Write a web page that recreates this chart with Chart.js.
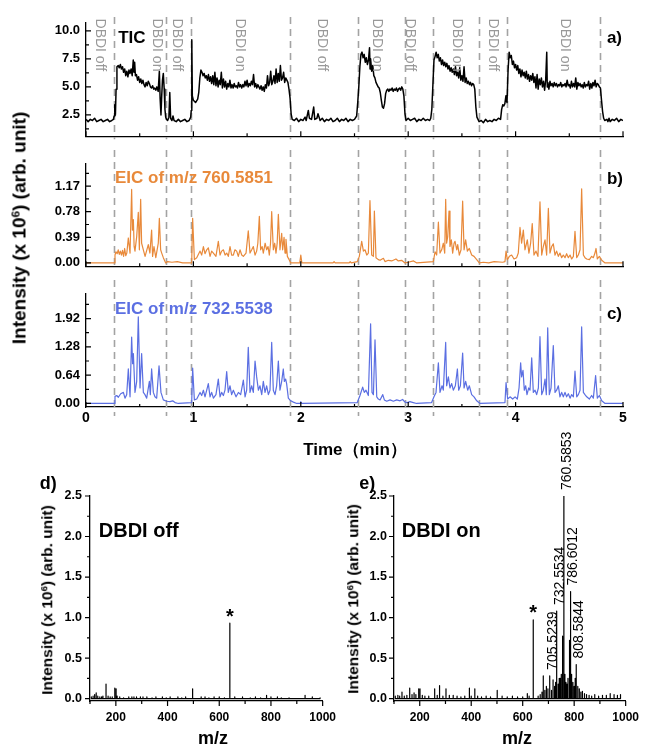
<!DOCTYPE html>
<html>
<head>
<meta charset="utf-8">
<script src="https://cdn.jsdelivr.net/npm/chart.js@4.4.1/dist/chart.umd.min.js"></script>
<style>
html, body { margin: 0; padding: 0; background: #fff; }
#page { position: relative; width: 648px; height: 749px; overflow: hidden; font-family: "Liberation Sans", Arial, sans-serif; }
canvas { position: absolute; }
.t { position: absolute; font-weight: bold; white-space: nowrap; color: #000; line-height: 1; }
.rot { transform: translate(-50%, -50%) rotate(-90deg); }
.ctr { transform: translate(-50%, -50%); }
sup { font-size: 0.62em; vertical-align: 0.55em; line-height: 0; }
</style>
</head>
<body>
<div id="page">
  <canvas id="cA" width="648" height="150" style="left:0;top:0"></canvas>
  <canvas id="cB" width="648" height="130" style="left:0;top:150px"></canvas>
  <canvas id="cC" width="648" height="190" style="left:0;top:280px"></canvas>
  <canvas id="cD" width="345" height="329" style="left:0;top:420px"></canvas>
  <canvas id="cE" width="303" height="329" style="left:345px;top:420px"></canvas>

  <div class="t rot" style="left:19px;top:228px;font-size:19px">Intensity (x 10<sup>6</sup>) (arb. unit)</div>
  <div class="t ctr" style="left:355px;top:449px;font-size:17px">Time（min）</div>
  <div class="t rot" style="left:47px;top:600px;font-size:15.5px">Intensity (x 10<sup>6</sup>) (arb. unit)</div>
  <div class="t rot" style="left:353px;top:599px;font-size:15.5px">Intensity (x 10<sup>6</sup>) (arb. unit)</div>
  <div class="t ctr" style="left:213px;top:738px;font-size:18px">m/z</div>
  <div class="t ctr" style="left:517px;top:738px;font-size:18px">m/z</div>
</div>
<script>
// time in min, intensities in 10^6 counts

var timeTicks = [0, 1, 2, 3, 4, 5];
var ticTicks = [2.5, 5.0, 7.5, 10.0];
var eic760Ticks = [0, 0.39, 0.78, 1.17];
var eic732Ticks = [0, 0.64, 1.28, 1.92];
var mzTicks = [200, 400, 600, 800, 1000];
var msTicks = [0, 0.5, 1.0, 1.5, 2.0, 2.5];

var switchTimes = [0.26, 0.745, 0.98, 1.90, 2.53, 2.97, 3.23, 3.66, 3.92, 4.79];
var stateNames = ['DBDI off', 'DBDI on', 'DBDI off', 'DBDI on', 'DBDI off', 'DBDI on', 'DBDI off', 'DBDI on', 'DBDI off', 'DBDI on'];
var stateNameTimes = [0.13, 0.66, 0.85, 1.43, 2.20, 2.71, 3.02, 3.45, 3.79, 4.46];

var ticPoints = [
  [0,2.1],[0.02,1.9],[0.04,2.1],[0.06,2.0],[0.08,2.2],[0.1,1.9],[0.12,2.0],[0.14,2.1],[0.16,1.9],[0.18,2.0],
  [0.2,2.1],[0.22,1.9],[0.24,2.0],[0.255,2.1],[0.262,2.4],[0.268,3.4],[0.274,2.5],[0.28,4.8],[0.288,6.8],[0.3,6.9],
  [0.31,6.7],[0.32,7.0],[0.33,6.6],[0.34,6.8],[0.35,6.3],[0.36,6.6],[0.37,6.0],[0.38,6.4],[0.39,5.9],[0.4,6.5],
  [0.41,6.2],[0.42,6.6],[0.43,6.0],[0.44,7.4],[0.447,6.3],[0.453,7.2],[0.46,6.0],[0.47,6.1],[0.48,5.6],[0.49,5.9],
  [0.5,5.4],[0.51,5.7],[0.52,5.3],[0.53,5.6],[0.54,5.2],[0.55,5.0],[0.56,5.4],[0.57,5.1],[0.58,5.5],[0.59,5.3],
  [0.6,5.0],[0.61,4.9],[0.62,5.1],[0.63,4.8],[0.64,4.9],[0.65,4.7],[0.66,5.0],[0.672,4.6],[0.683,6.4],[0.69,4.0],
  [0.698,2.5],[0.705,4.2],[0.712,5.6],[0.72,6.2],[0.728,4.8],[0.735,3.0],[0.742,2.3],[0.75,2.1],[0.76,2.0],[0.772,2.3],
  [0.78,4.5],[0.788,2.2],[0.8,2.0],[0.81,2.4],[0.82,2.0],[0.84,1.9],[0.86,2.1],[0.88,1.9],[0.9,2.0],[0.92,2.1],
  [0.94,1.9],[0.96,2.0],[0.975,2.3],[0.98,2.9],[0.985,9.2],[0.99,4.2],[1.0,3.8],[1.02,3.6],[1.04,3.9],[1.05,4.5],
  [1.06,5.8],[1.07,6.5],[1.08,6.3],[1.09,6.0],[1.1,6.2],[1.11,5.8],[1.12,6.0],[1.13,5.6],[1.14,6.1],[1.15,5.5],
  [1.16,5.9],[1.17,5.3],[1.18,6.0],[1.19,5.2],[1.2,6.3],[1.21,5.1],[1.22,5.8],[1.23,5.0],[1.24,5.6],[1.25,5.2],
  [1.26,6.3],[1.27,4.9],[1.28,5.7],[1.29,5.0],[1.3,5.5],[1.31,4.8],[1.32,5.3],[1.33,5.0],[1.34,5.6],[1.35,4.9],
  [1.36,5.2],[1.37,4.9],[1.38,5.3],[1.39,5.0],[1.4,5.1],[1.41,4.9],[1.42,5.4],[1.43,5.0],[1.44,5.2],[1.45,4.9],
  [1.46,5.2],[1.47,5.0],[1.48,5.5],[1.49,5.1],[1.5,5.6],[1.51,5.0],[1.52,5.3],[1.53,5.1],[1.54,5.5],[1.55,5.2],
  [1.56,6.1],[1.57,5.0],[1.58,5.3],[1.59,4.9],[1.6,5.2],[1.61,5.0],[1.62,4.8],[1.63,5.1],[1.64,4.7],[1.65,5.0],
  [1.66,4.6],[1.67,5.2],[1.68,4.9],[1.69,6.0],[1.7,5.1],[1.71,5.4],[1.72,6.4],[1.73,5.2],[1.74,5.5],[1.75,6.0],
  [1.76,5.3],[1.77,6.6],[1.78,5.4],[1.79,6.2],[1.8,5.5],[1.81,6.9],[1.82,5.6],[1.83,5.8],[1.84,6.3],[1.85,5.4],
  [1.86,5.8],[1.87,5.6],[1.88,5.4],[1.89,4.8],[1.9,4.0],[1.91,2.6],[1.92,2.1],[1.94,2.0],[1.96,2.2],[1.98,1.9],
  [2.0,2.1],[2.02,2.0],[2.04,2.3],[2.05,2.0],[2.07,2.9],[2.08,2.2],[2.1,2.1],[2.12,3.2],[2.13,2.1],[2.15,2.2],
  [2.16,2.6],[2.18,2.0],[2.2,2.2],[2.22,1.9],[2.24,2.1],[2.26,2.0],[2.28,2.2],[2.3,1.9],[2.32,2.0],[2.34,2.2],
  [2.36,1.9],[2.38,2.1],[2.4,2.0],[2.42,2.2],[2.44,1.9],[2.46,2.1],[2.48,2.0],[2.5,2.1],[2.52,2.4],[2.53,3.6],
  [2.54,5.0],[2.55,6.8],[2.56,7.9],[2.57,8.1],[2.58,7.6],[2.59,7.9],[2.6,7.2],[2.61,7.6],[2.62,7.0],[2.63,7.4],
  [2.64,8.5],[2.645,6.6],[2.65,7.5],[2.66,6.4],[2.67,6.9],[2.68,6.0],[2.69,5.8],[2.7,5.4],[2.71,5.2],[2.72,5.0],
  [2.73,4.9],[2.74,4.5],[2.75,3.8],[2.76,3.2],[2.77,3.1],[2.78,3.5],[2.79,4.4],[2.8,4.7],[2.81,4.8],[2.82,4.6],
  [2.83,4.8],[2.84,4.7],[2.85,4.9],[2.86,4.6],[2.87,4.8],[2.88,4.7],[2.89,4.9],[2.9,4.6],[2.91,4.8],[2.92,4.9],
  [2.93,4.7],[2.94,5.0],[2.95,4.8],[2.96,4.2],[2.97,2.6],[2.98,2.0],[3.0,2.2],[3.02,2.0],[3.04,2.1],[3.06,2.2],
  [3.08,1.9],[3.1,2.1],[3.12,2.0],[3.14,2.2],[3.16,2.0],[3.18,2.1],[3.2,2.0],[3.21,2.2],[3.22,3.0],[3.23,5.2],
  [3.24,7.4],[3.25,7.7],[3.26,8.1],[3.27,7.6],[3.28,7.9],[3.29,7.3],[3.3,7.6],[3.31,7.0],[3.32,7.4],[3.33,6.9],
  [3.34,7.2],[3.35,6.8],[3.36,7.1],[3.37,6.6],[3.38,6.9],[3.39,6.4],[3.4,6.7],[3.41,6.3],[3.42,6.6],[3.43,6.1],
  [3.44,6.8],[3.45,6.0],[3.46,6.3],[3.47,5.8],[3.48,6.7],[3.49,5.6],[3.5,6.0],[3.51,5.5],[3.52,6.8],[3.53,5.4],
  [3.54,5.8],[3.55,5.3],[3.56,5.5],[3.57,5.2],[3.58,5.4],[3.59,5.1],[3.6,5.3],[3.61,5.2],[3.62,4.8],[3.63,3.2],
  [3.64,2.3],[3.65,2.1],[3.66,1.9],[3.68,2.0],[3.7,1.8],[3.72,2.1],[3.74,1.9],[3.76,2.0],[3.78,1.9],[3.8,2.1],
  [3.82,2.0],[3.84,2.2],[3.86,2.1],[3.87,3.0],[3.88,3.4],[3.89,3.3],[3.9,3.5],[3.91,4.2],[3.92,3.6],[3.93,6.5],
  [3.94,8.1],[3.95,7.6],[3.96,7.8],[3.97,7.0],[3.98,7.3],[3.99,6.7],[4.0,7.0],[4.01,6.5],[4.02,6.9],[4.03,6.2],
  [4.04,6.6],[4.05,5.9],[4.06,6.5],[4.07,6.0],[4.08,6.3],[4.09,5.8],[4.1,6.4],[4.11,5.7],[4.12,6.1],[4.13,5.5],
  [4.14,6.0],[4.15,5.6],[4.16,6.2],[4.17,5.4],[4.18,5.9],[4.19,4.9],[4.2,6.1],[4.21,4.8],[4.22,5.7],[4.23,5.2],
  [4.24,5.8],[4.25,5.0],[4.26,5.5],[4.27,4.7],[4.28,5.6],[4.29,8.1],[4.295,5.0],[4.3,5.4],[4.31,4.8],[4.32,5.5],
  [4.33,5.1],[4.34,5.3],[4.35,5.0],[4.36,5.4],[4.37,5.1],[4.38,5.3],[4.39,5.0],[4.4,5.2],[4.41,5.1],[4.42,5.4],
  [4.43,5.0],[4.44,5.2],[4.45,5.1],[4.46,5.3],[4.47,5.0],[4.48,5.6],[4.49,5.1],[4.5,5.2],[4.51,4.9],[4.52,5.5],
  [4.53,5.0],[4.54,5.3],[4.55,5.0],[4.56,5.8],[4.57,4.8],[4.58,5.4],[4.59,5.1],[4.6,5.3],[4.61,5.0],[4.62,5.2],
  [4.63,4.9],[4.64,5.4],[4.65,5.0],[4.66,5.2],[4.67,5.1],[4.68,5.5],[4.69,4.8],[4.7,5.3],[4.71,4.9],[4.72,5.4],
  [4.73,5.1],[4.74,5.6],[4.75,5.0],[4.76,5.3],[4.77,5.2],[4.78,5.0],[4.79,4.9],[4.8,3.8],[4.81,2.8],[4.82,2.2],
  [4.83,2.0],[4.85,2.1],[4.86,1.9],[4.87,2.2],[4.88,1.9],[4.9,2.1],[4.92,2.0],[4.94,2.2],[4.96,1.9],[4.98,2.1],[5.0,2.0]
];

var eic760Points = [
  [0,0],[0.262,0],[0.27,0.12],[0.279,0.17],[0.29,0.14],[0.3,0.2],[0.31,0.13],[0.32,0.18],[0.33,0.12],[0.34,0.19],
  [0.35,0.1],[0.36,0.22],[0.37,0.11],[0.38,0.15],[0.394,0.38],[0.41,0.15],[0.425,1.12],[0.432,0.5],[0.441,0.66],[0.448,0.25],
  [0.456,0.18],[0.472,0.4],[0.487,0.77],[0.497,0.2],[0.509,0.97],[0.518,0.3],[0.534,0.2],[0.55,0.1],[0.58,0.28],[0.595,0.15],
  [0.611,0.5],[0.62,0.1],[0.633,0.25],[0.65,0.08],[0.673,0.3],[0.683,0.68],[0.695,0.2],[0.705,0.15],[0.72,0.08],[0.742,0],
  [0.76,0.02],[0.8,0.01],[0.85,0.02],[0.9,0],[0.984,0],[0.993,0.68],[1.009,0.05],[1.031,0.08],[1.062,0.18],[1.077,0.12],
  [1.093,0.25],[1.108,0.14],[1.124,0.2],[1.139,0.23],[1.155,0.1],[1.17,0.18],[1.186,0.15],[1.21,0.1],[1.232,0.33],[1.248,0.12],
  [1.263,0.18],[1.279,0.2],[1.295,0.12],[1.31,0.15],[1.325,0.1],[1.341,0.25],[1.356,0.12],[1.372,0.12],[1.387,0.2],[1.403,0.18],
  [1.418,0.1],[1.434,0.2],[1.45,0.12],[1.465,0.1],[1.49,0.15],[1.511,0.49],[1.527,0.15],[1.543,0.2],[1.558,0.25],[1.574,0.12],
  [1.589,0.18],[1.6,0.3],[1.614,0.71],[1.626,0.2],[1.64,0.25],[1.651,0.15],[1.668,0.3],[1.682,0.2],[1.695,0.25],[1.707,0.12],
  [1.718,0.3],[1.729,0.78],[1.744,0.2],[1.757,0.3],[1.769,0.15],[1.78,0.3],[1.791,0.74],[1.806,0.2],[1.822,0.45],[1.831,0.2],
  [1.844,0.39],[1.853,0.15],[1.862,0.36],[1.875,0.1],[1.894,0.04],[1.906,0],[1.99,0],[2.0,0.12],[2.01,0],[2.3,0],
  [2.31,0.02],[2.32,0],[2.45,0],[2.46,0.02],[2.47,0],[2.526,0.02],[2.545,0.1],[2.567,0.33],[2.583,0.18],[2.598,0.2],
  [2.614,0.12],[2.629,0.15],[2.644,0.95],[2.66,0.12],[2.676,0.1],[2.685,0.79],[2.7,0.08],[2.722,0.05],[2.738,0.04],[2.769,0.07],
  [2.784,0.02],[2.815,0.04],[2.846,0.03],[2.886,0.06],[2.908,0.03],[2.939,0.04],[2.97,0],[3.0,0.01],[3.05,0.03],[3.08,0],
  [3.234,0.02],[3.25,0.17],[3.265,0.12],[3.281,0.62],[3.296,0.15],[3.312,0.2],[3.327,0.3],[3.34,0.15],[3.349,0.97],[3.358,0.3],
  [3.368,0.4],[3.38,0.79],[3.389,0.25],[3.402,0.35],[3.414,0.15],[3.427,0.3],[3.436,0.33],[3.452,0.2],[3.461,0.28],[3.476,0.12],
  [3.492,0.2],[3.507,0.94],[3.52,0.2],[3.535,0.35],[3.551,0.18],[3.569,0.22],[3.591,0.12],[3.613,0.1],[3.638,0.05],[3.662,0],
  [3.7,0.01],[3.75,0],[3.8,0.02],[3.88,0.01],[3.901,0.02],[3.911,0.18],[3.923,0.05],[3.942,0.1],[3.963,0.12],[3.985,0.06],
  [4.01,0.08],[4.025,0.15],[4.041,0.54],[4.056,0.3],[4.072,0.5],[4.087,0.2],[4.109,0.35],[4.124,0.15],[4.14,0.3],[4.155,0.6],
  [4.171,0.12],[4.19,0.18],[4.208,0.1],[4.227,0.93],[4.243,0.12],[4.258,0.25],[4.274,0.35],[4.289,0.12],[4.305,0.83],[4.32,0.15],
  [4.336,0.25],[4.351,0.29],[4.367,0.12],[4.382,0.18],[4.398,0.1],[4.413,0.15],[4.429,0.08],[4.444,0.12],[4.46,0.08],[4.475,0.14],
  [4.491,0.08],[4.507,0.12],[4.522,0.06],[4.538,0.1],[4.553,0.48],[4.569,0.08],[4.584,0.12],[4.6,0.2],[4.615,1.13],[4.631,0.12],
  [4.646,0.08],[4.662,0.06],[4.687,0.05],[4.708,0.1],[4.724,0.08],[4.739,0.15],[4.749,0.22],[4.761,0.06],[4.78,0.1],[4.802,0.04],
  [4.833,0],[5.0,0]
];

var eic732Points = [
  [0,0],[0.262,0],[0.27,0.16],[0.286,0.18],[0.301,0.14],[0.323,0.22],[0.348,0.25],[0.363,0.12],[0.379,0.2],[0.394,0.78],
  [0.41,0.15],[0.425,1.5],[0.434,0.9],[0.441,1.13],[0.456,0.25],[0.472,0.5],[0.487,1.96],[0.503,0.35],[0.518,1.13],[0.534,0.25],
  [0.549,0.2],[0.565,0.12],[0.59,0.5],[0.599,0.2],[0.611,0.78],[0.627,0.25],[0.642,0.15],[0.658,0.12],[0.68,0.85],[0.698,0.25],
  [0.72,0.08],[0.751,0.05],[0.782,0.04],[0.807,0.06],[0.829,0.02],[0.86,0],[0.984,0.02],[0.993,0.8],[1.009,0.08],[1.031,0.1],
  [1.062,0.25],[1.077,0.18],[1.093,0.3],[1.108,0.15],[1.124,0.3],[1.139,0.45],[1.155,0.15],[1.17,0.25],[1.186,0.12],[1.21,0.2],
  [1.232,0.55],[1.248,0.15],[1.263,0.25],[1.279,0.18],[1.294,0.3],[1.31,0.72],[1.325,0.25],[1.341,0.4],[1.356,0.2],[1.372,0.3],
  [1.397,0.15],[1.419,0.25],[1.44,0.2],[1.465,0.53],[1.481,0.15],[1.496,0.3],[1.511,1.27],[1.527,0.25],[1.543,0.4],[1.558,0.25],
  [1.574,0.96],[1.589,0.6],[1.605,0.3],[1.62,0.4],[1.636,0.2],[1.651,0.5],[1.667,0.25],[1.682,0.4],[1.698,0.2],[1.713,0.3],
  [1.729,1.38],[1.744,0.3],[1.76,0.2],[1.775,0.4],[1.791,0.96],[1.806,0.3],[1.822,0.5],[1.837,0.78],[1.847,0.5],[1.859,0.55],
  [1.868,0.45],[1.884,0.12],[1.906,0.06],[1.931,0.03],[1.962,0],[1.995,0],[2.0,0.04],[2.01,0],[2.526,0.02],[2.551,0.18],
  [2.576,0.37],[2.591,0.25],[2.607,0.3],[2.629,0.18],[2.65,1.8],[2.663,0.25],[2.676,0.2],[2.691,1.44],[2.707,0.15],[2.722,0.1],
  [2.738,0.08],[2.763,0.2],[2.778,0.08],[2.8,0.05],[2.831,0.08],[2.862,0.05],[2.893,0.08],[2.924,0.06],[2.948,0.09],[2.97,0.03],
  [2.991,0.02],[3.016,0.04],[3.047,0.02],[3.078,0],[3.218,0.02],[3.24,0.15],[3.259,0.25],[3.281,0.92],[3.296,0.25],[3.315,0.4],
  [3.327,0.3],[3.349,1.38],[3.358,0.4],[3.374,0.6],[3.389,0.35],[3.405,0.45],[3.42,0.3],[3.439,0.4],[3.458,0.78],[3.47,0.3],
  [3.486,0.4],[3.507,1.14],[3.52,0.35],[3.535,0.5],[3.554,0.3],[3.569,0.4],[3.591,0.2],[3.613,0.15],[3.638,0.06],[3.669,0],
  [3.901,0.02],[3.911,0.47],[3.926,0.1],[3.948,0.15],[3.973,0.1],[3.995,0.15],[4.016,0.1],[4.032,0.35],[4.047,0.92],[4.056,0.6],
  [4.069,0.75],[4.081,0.3],[4.094,0.4],[4.106,0.2],[4.122,0.35],[4.134,0.3],[4.15,1.03],[4.165,0.25],[4.181,0.3],[4.196,0.2],
  [4.212,0.35],[4.227,1.51],[4.243,0.2],[4.258,0.3],[4.274,0.55],[4.286,0.2],[4.299,1.71],[4.314,0.2],[4.33,0.35],[4.351,1.31],
  [4.367,0.25],[4.382,0.3],[4.398,0.4],[4.413,0.15],[4.429,0.25],[4.444,0.15],[4.46,0.25],[4.475,0.15],[4.491,0.22],[4.507,0.12],
  [4.522,0.2],[4.538,0.15],[4.553,0.73],[4.569,0.15],[4.584,0.2],[4.6,0.3],[4.615,1.73],[4.631,0.25],[4.646,0.2],[4.662,0.15],
  [4.687,0.1],[4.708,0.18],[4.724,0.12],[4.745,0.63],[4.761,0.12],[4.78,0.18],[4.802,0.06],[4.833,0],[5.0,0]
];

// mass spectra as [m/z, intensity] sticks
var offSticks = [
  [105,0.02],[112,0.03],[118,0.05],[124,0.07],[130,0.03],[138,0.02],[145,0.02],[150,0.03],[162,0.18],[170,0.03],
  [178,0.02],[186,0.02],[196,0.13],[201,0.12],[205,0.03],[215,0.02],[230,0.01],[250,0.02],[262,0.02],[270,0.02],
  [280,0.02],[295,0.02],[305,0.02],[320,0.02],[340,0.01],[355,0.02],[380,0.02],[395,0.01],[410,0.02],[440,0.02],
  [455,0.01],[470,0.02],[497,0.12],[530,0.02],[545,0.02],[560,0.01],[580,0.02],[600,0.02],[620,0.01],[641,0.93],
  [660,0.02],[690,0.02],[720,0.01],[740,0.02],[760,0.01],[783,0.04],[800,0.02],[825,0.02],[840,0.01],[870,0.01],
  [932,0.04],[960,0.02],[990,0.01]
];
var onSticks = [
  [105,0.03],[115,0.04],[122,0.03],[131,0.08],[140,0.03],[150,0.04],[161,0.13],[170,0.05],[178,0.07],[185,0.05],
  [196,0.12],[201,0.12],[210,0.04],[220,0.03],[235,0.03],[258,0.12],[268,0.04],[277,0.16],[290,0.03],[302,0.12],
  [315,0.04],[330,0.04],[345,0.03],[360,0.02],[375,0.03],[393,0.13],[400,0.03],[414,0.12],[425,0.03],[440,0.02],
  [458,0.03],[475,0.02],[501,0.1],[520,0.03],[540,0.02],[560,0.03],[580,0.02],[600,0.02],[618,0.06],[625,0.03],
  [641,0.97],[660,0.03],[668,0.05],[675,0.08],[680,0.28],[686,0.1],[692,0.15],[698,0.12],[705,0.28],[712,0.1],
  [718,0.23],[724,0.15],[728,0.2],[732,1.08],[738,0.18],[742,0.25],[746,0.25],[750,0.3],[755,0.77],[760,2.5],
  [764,0.3],[768,0.2],[772,0.18],[776,0.25],[782,0.72],[786,1.32],[790,0.3],[795,0.2],[800,0.15],[804,0.25],
  [808,0.42],[814,0.15],[820,0.12],[826,0.08],[832,0.09],[840,0.06],[848,0.05],[858,0.04],[868,0.03],[880,0.05],
  [895,0.03],[910,0.04],[925,0.04],[940,0.06],[955,0.05],[968,0.04],[980,0.05]
];
var starMz = 641;
var peakMz = [705, 732, 760, 786, 808];
var peakNames = ['705.5239', '732.5534', '760.5853', '786.6012', '808.5844'];

var ORANGE = '#E8893A';
var BLUE = '#5B6FE2';
var FONT = '"Liberation Sans", Arial, sans-serif';

function xy(list) {
  return list.map(function(p) { return {x: p[0], y: p[1]}; });
}

// every stick goes up from the baseline and back down
function sticks(list) {
  var out = [];
  list.forEach(function(p) {
    out.push({x: p[0], y: 0}, {x: p[0], y: p[1]}, {x: p[0], y: 0});
  });
  return out;
}

function heightAt(list, mz) {
  for (var i = 0; i < list.length; i++) if (list[i][0] === mz) return list[i][1];
  return 0;
}

// major ticks from the axis list, minors half way between
function tickMarks(inward) {
  return {
    id: 'tickMarks',
    afterDraw: function(chart) {
      var ctx = chart.ctx, a = chart.chartArea, s = inward ? -1 : 1;
      ctx.save();
      ctx.strokeStyle = '#000';
      ctx.lineWidth = 1.2;
      ctx.beginPath();
      marks(chart.scales.x).forEach(function(m) {
        var px = chart.scales.x.getPixelForValue(m[0]);
        ctx.moveTo(px, a.bottom);
        ctx.lineTo(px, a.bottom + s * (m[1] ? 5 : 3));
      });
      marks(chart.scales.y).forEach(function(m) {
        var py = chart.scales.y.getPixelForValue(m[0]);
        ctx.moveTo(a.left, py);
        ctx.lineTo(a.left - s * (m[1] ? 5 : 3), py);
      });
      ctx.stroke();
      ctx.restore();
    }
  };
}

function marks(scale) {
  var vals = scale.ticks.map(function(t) { return t.value; });
  var half = (vals[1] - vals[0]) / 2, out = [];
  var v = vals[0];
  while (v - half >= scale.min - 1e-9) v -= half;
  for (; v <= scale.max + 1e-9; v += half) {
    var k = Math.round((v - vals[0]) / half);
    out.push([v, Math.abs(k) % 2 === 0]);
  }
  return out;
}

function switchLines(top, extra) {
  return {
    id: 'switchLines',
    beforeDatasetsDraw: function(chart) {
      var ctx = chart.ctx, a = chart.chartArea;
      ctx.save();
      ctx.strokeStyle = '#A3A3A3';
      ctx.lineWidth = 1.6;
      ctx.setLineDash([7, 5]);
      switchTimes.forEach(function(t) {
        var px = Math.round(chart.scales.x.getPixelForValue(t)) + 0.5;
        ctx.beginPath();
        ctx.moveTo(px, top);
        ctx.lineTo(px, a.bottom + extra);
        ctx.stroke();
      });
      ctx.restore();
    }
  };
}

function notes(items) {
  return {
    id: 'notes',
    afterDraw: function(chart) {
      var ctx = chart.ctx;
      items.forEach(function(n) {
        ctx.save();
        ctx.translate(chart.scales.x.getPixelForValue(n.x) + (n.dx || 0),
                      chart.scales.y.getPixelForValue(n.y) + (n.dy || 0));
        ctx.rotate((n.rot || 0) * Math.PI / 180);
        ctx.font = n.font;
        ctx.fillStyle = n.color || '#000';
        ctx.textAlign = n.align || 'left';
        ctx.textBaseline = n.base || 'middle';
        ctx.fillText(n.text, 0, 0);
        ctx.restore();
      });
    }
  };
}

function axis(o, horizontal) {
  return {
    type: 'linear',
    min: o.min,
    max: o.max,
    afterBuildTicks: function(s) { s.ticks = o.ticks.map(function(v) { return {value: v}; }); },
    afterFit: function(s) { if (horizontal) s.height = o.size; else s.width = o.size; },
    grid: {display: false, drawTicks: false},
    border: {display: true, color: '#000', width: 1.3},
    ticks: {
      display: o.labels !== false,
      padding: o.pad || 0,
      color: '#000',
      autoSkip: false,
      maxRotation: 0,
      font: {family: FONT, weight: 'bold', size: o.font || 13},
      callback: function(v) { return o.fmt(v); }
    }
  };
}

function panel(id, o) {
  return new Chart(document.getElementById(id), {
    type: 'line',
    data: {datasets: o.sets},
    options: {
      responsive: false,
      animation: false,
      events: [],
      layout: {autoPadding: false, padding: o.pad},
      plugins: {legend: {display: false}, tooltip: {enabled: false}},
      elements: {point: {radius: 0}, line: {tension: 0, borderJoinStyle: 'round'}},
      scales: {x: axis(o.x, true), y: axis(o.y, false)}
    },
    plugins: [tickMarks(o.inward), notes(o.notes)].concat(o.extra || [])
  });
}

var fmt0 = function(v) { return String(v); };
var fmt1 = function(v) { return v.toFixed(1); };
var fmt2 = function(v) { return v.toFixed(2); };

var boldBig = 'bold 17px ' + FONT;
var stateFont = '14px ' + FONT;

var stateNotes = stateNames.map(function(s, i) {
  return {text: s, x: stateNameTimes[i], y: 11.1, rot: 90, font: stateFont, color: '#989898', align: 'left', base: 'middle'};
});

panel('cA', {
  pad: {left: 36, right: 25, top: 23, bottom: 2},
  inward: true,
  x: {min: 0, max: 5, ticks: timeTicks, labels: false, size: 1, fmt: fmt0},
  y: {min: 0.6, max: 10.7, ticks: ticTicks, size: 50, pad: 6, fmt: fmt1},
  sets: [{data: xy(ticPoints), borderColor: '#000', borderWidth: 1.5}],
  notes: stateNotes.concat([
    {text: 'TIC', x: 0.3, y: 9.35, font: boldBig},
    {text: 'a)', x: 4.85, y: 9.35, font: boldBig}
  ]),
  extra: [switchLines(17, 3)]
});

panel('cB', {
  pad: {left: 36, right: 25, top: 3, bottom: 2},
  inward: true,
  x: {min: 0, max: 5, ticks: timeTicks, labels: false, size: 1, fmt: fmt0},
  y: {min: -0.05, max: 1.51, ticks: eic760Ticks, size: 50, pad: 6, fmt: fmt2},
  sets: [{data: xy(eic760Points), borderColor: ORANGE, borderWidth: 1.2}],
  notes: [
    {text: 'EIC of m/z 760.5851', x: 0.27, y: 1.296, font: boldBig, color: ORANGE},
    {text: 'b)', x: 4.85, y: 1.27, font: boldBig}
  ],
  extra: [switchLines(0, 3)]
});

panel('cC', {
  pad: {left: 36, right: 25, top: 3, bottom: 33},
  inward: true,
  x: {min: 0, max: 5, ticks: timeTicks, size: 30, pad: 3, font: 14, fmt: fmt0},
  y: {min: -0.08, max: 2.48, ticks: eic732Ticks, size: 50, pad: 6, fmt: fmt2},
  sets: [{data: xy(eic732Points), borderColor: BLUE, borderWidth: 1.2}],
  notes: [
    {text: 'EIC of m/z 732.5538', x: 0.27, y: 2.13, font: boldBig, color: BLUE},
    {text: 'c)', x: 4.85, y: 2.02, font: boldBig}
  ],
  extra: [switchLines(0, 9)]
});

panel('cD', {
  pad: {left: 40, right: 14, top: 76, bottom: 23},
  inward: false,
  x: {min: 100, max: 1000, ticks: mzTicks, size: 25, pad: 9, font: 12, fmt: fmt0},
  y: {min: -0.03, max: 2.5, ticks: msTicks, size: 50, pad: 8, font: 12.5, fmt: fmt1},
  sets: [{data: sticks(offSticks), borderColor: '#000', borderWidth: 1.2}],
  notes: [
    {text: 'd)', x: -94, y: 2.65, font: 'bold 18px ' + FONT},
    {text: 'DBDI off', x: 134, y: 2.06, font: 'bold 20px ' + FONT},
    {text: '*', x: starMz, y: heightAt(offSticks, starMz), font: 'bold 20px ' + FONT, align: 'center', base: 'alphabetic'}
  ]
});

var peakNotes = peakMz.map(function(m, i) {
  return {text: peakNames[i], x: m, y: heightAt(onSticks, m), dx: 3, dy: -6, rot: -90, font: '14px ' + FONT, align: 'left', base: 'middle'};
});

panel('cE', {
  pad: {left: 9, right: 14, top: 76, bottom: 23},
  inward: false,
  x: {min: 100, max: 1000, ticks: mzTicks, size: 25, pad: 9, font: 12, fmt: fmt0},
  y: {min: -0.03, max: 2.5, ticks: msTicks, size: 40, pad: 7, font: 12.5, fmt: fmt1},
  sets: [{data: sticks(onSticks), borderColor: '#000', borderWidth: 1.2}],
  notes: peakNotes.concat([
    {text: 'e)', x: -35, y: 2.65, font: 'bold 18px ' + FONT},
    {text: 'DBDI on', x: 130, y: 2.06, font: 'bold 20px ' + FONT},
    {text: '*', x: starMz, y: heightAt(onSticks, starMz), dy: -1, font: 'bold 20px ' + FONT, align: 'center', base: 'alphabetic'}
  ])
});
</script>
</body>
</html>
